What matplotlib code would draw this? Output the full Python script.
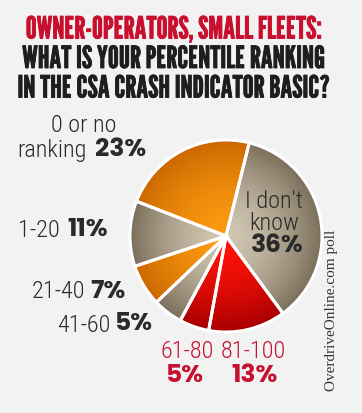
import matplotlib.pyplot as plt
import matplotlib.colors as mcolors
import matplotlib.patheffects as pe
import numpy as np

W, H = 362, 413

# data
labels = ["I don't know", '81-100', '61-80', '41-60', '21-40', '1-20', '0 or no ranking']
shares = [36, 13, 5, 5, 7, 11, 23]
kinds = ['gray', 'red', 'red', 'gray', 'orange', 'gray', 'orange']

title_lines = ['OWNER-OPERATORS, SMALL FLEETS:',
               'WHAT IS YOUR PERCENTILE RANKING',
               'IN THE CSA CRASH INDICATOR BASIC?']

# inner (light) and outer (dark) shade for the radial gradient
shade = {'gray': ('#cfc4b0', '#7c705c'),
         'red': ('#ff1208', '#a80000'),
         'orange': ('#fb9a10', '#cc6800')}

bg = '#f2f2f2'
fig = plt.figure(figsize=(W / 100, H / 100), dpi=100, facecolor=bg)

def px(x, y):
    return x / W, 1 - y / H

# pie axes
cx, cy, r = 226, 236, 97
ax = fig.add_axes([(cx - r) / W, (H - cy - r) / H, 2 * r / W, 2 * r / H])

# layered pies fake the radial shading
for rad in np.linspace(1.0, 0.04, 40):
    t = (rad - 0.04) / 0.96
    cols = []
    for k in kinds:
        a = np.array(mcolors.to_rgb(shade[k][0]))
        b = np.array(mcolors.to_rgb(shade[k][1]))
        cols.append(a + (b - a) * t ** 1.6)
    ax.pie(shares, colors=cols, radius=rad, startangle=76, counterclock=False,
           wedgeprops=dict(linewidth=0))
# white slice borders
ax.pie(shares, colors=['none'] * len(shares), radius=1.0, startangle=76, counterclock=False,
       wedgeprops=dict(linewidth=2.2, edgecolor='white'))
# pie() resets the limits, so set them afterwards
ax.set_xlim(-1.01, 1.01)
ax.set_ylim(-1.01, 1.01)
ax.set_aspect('equal')
ax.axis('off')

# title
tcols = ['#c8102e', '#1e1e1e', '#1e1e1e']
for i, line in enumerate(title_lines):
    fig.text(*px(174, 30 + i * 29.5), line, ha='center', va='center', fontsize=22,
             family='League Gothic', color=tcols[i],
             path_effects=[pe.withStroke(linewidth=0.6, foreground=tcols[i])])

dark = '#2a2a2a'
red = '#c41230'
lab = dict(family='Roboto Condensed', fontweight='light', fontsize=17.5, va='center')
pct = dict(family='Poppins', fontsize=18, fontweight='bold', va='center')

def pair(x1, x2, y, a, b, col=dark):
    fig.text(*px(x1, y), a, ha='left', color=col, **lab)
    fig.text(*px(x2, y), b, ha='left', color=col, **pct)

fig.text(*px(84, 125), '0 or no', ha='center', color=dark, **lab)
pair(17, 95, 151, 'ranking', '23%')
pair(18, 67, 230, '1-20', '11%')
pair(32, 90, 292, '21-40', '7%')
pair(57, 115, 325, '41-60', '5%')

fig.text(*px(187, 352), labels[2], ha='center', color=red, **lab)
fig.text(*px(185, 377), '5%', ha='center', color=red, **pct)
fig.text(*px(253, 352), labels[1], ha='center', color=red, **lab)
fig.text(*px(254, 377), '13%', ha='center', color=red, **pct)

fig.text(*px(274, 202), "I don't", ha='center', color=dark, **lab)
fig.text(*px(274, 224), 'know', ha='center', color=dark, **lab)
fig.text(*px(277, 246), '36%', ha='center', color=dark, **pct)

fig.text(*px(331, 310), 'OverdriveOnline.com poll', rotation=90, ha='center', va='center',
         family='Liberation Serif', fontsize=11, color='#333333')

fig.savefig('out.png', dpi=100, facecolor=bg)
